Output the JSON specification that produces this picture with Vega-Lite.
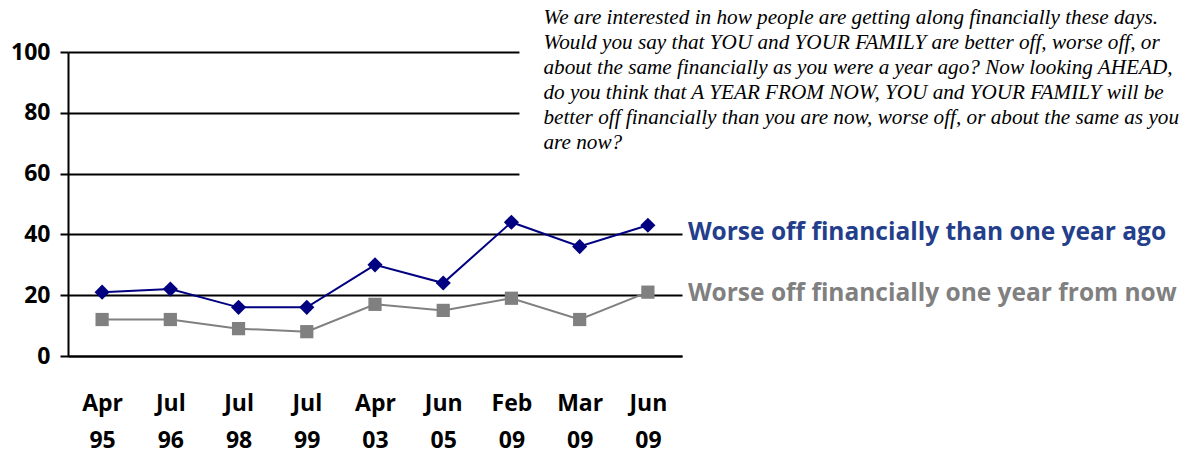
{
  "$schema": "https://vega.github.io/schema/vega-lite/v6.json",
  "width": 614,
  "height": 304,
  "autosize": "none",
  "padding": {"left": 68, "top": 52, "right": 517, "bottom": 98},
  "background": "white",
  "config": {"view": {"stroke": null}},
  "datasets": {
    "series": [
      {"period": "Apr 95", "series": "Worse off financially than one year ago", "value": 21},
      {"period": "Jul 96", "series": "Worse off financially than one year ago", "value": 22},
      {"period": "Jul 98", "series": "Worse off financially than one year ago", "value": 16},
      {"period": "Jul 99", "series": "Worse off financially than one year ago", "value": 16},
      {"period": "Apr 03", "series": "Worse off financially than one year ago", "value": 30},
      {"period": "Jun 05", "series": "Worse off financially than one year ago", "value": 24},
      {"period": "Feb 09", "series": "Worse off financially than one year ago", "value": 44},
      {"period": "Mar 09", "series": "Worse off financially than one year ago", "value": 36},
      {"period": "Jun 09", "series": "Worse off financially than one year ago", "value": 43},
      {"period": "Apr 95", "series": "Worse off financially one year from now", "value": 12},
      {"period": "Jul 96", "series": "Worse off financially one year from now", "value": 12},
      {"period": "Jul 98", "series": "Worse off financially one year from now", "value": 9},
      {"period": "Jul 99", "series": "Worse off financially one year from now", "value": 8},
      {"period": "Apr 03", "series": "Worse off financially one year from now", "value": 17},
      {"period": "Jun 05", "series": "Worse off financially one year from now", "value": 15},
      {"period": "Feb 09", "series": "Worse off financially one year from now", "value": 19},
      {"period": "Mar 09", "series": "Worse off financially one year from now", "value": 12},
      {"period": "Jun 09", "series": "Worse off financially one year from now", "value": 21}
    ],
    "labels": [
      {"period": "Jun 09", "value": 40, "label": "Worse off financially than one year ago", "series": "Worse off financially than one year ago"},
      {"period": "Jun 09", "value": 20, "label": "Worse off financially one year from now", "series": "Worse off financially one year from now"}
    ],
    "box": [
      {"from": "Feb 09", "to": "Jun 09", "top": 100, "bottom": 58}
    ],
    "question": [
      {"period": "Feb 09", "value": 100, "text": ["We are interested in how people are getting along financially these days.", "Would you say that YOU and YOUR FAMILY are better off, worse off, or", "about the same financially as you were a year ago? Now looking AHEAD,", "do you think that A YEAR FROM NOW, YOU and YOUR FAMILY will be", "better off financially than you are now, worse off, or about the same as you", "are now?"]}
    ]
  },
  "layer": [
    {
      "data": {"name": "series"},
      "mark": {"type": "line", "strokeWidth": 2},
      "encoding": {
        "x": {
          "field": "period", "type": "ordinal", "sort": null,
          "scale": {"type": "point", "padding": 0.5},
          "axis": {
            "title": null, "labelAngle": 0, "ticks": false, "domain": true,
            "domainColor": "black", "domainWidth": 2,
            "labelExpr": "split(datum.label, ' ')",
            "labelFont": "Open Sans", "labelFontWeight": "bold", "labelFontSize": 23,
            "labelColor": "black", "labelPadding": 36, "labelLineHeight": 37,
            "labelBaseline": "top"
          }
        },
        "y": {
          "field": "value", "type": "quantitative",
          "scale": {"domain": [0, 100]},
          "axis": {
            "title": null, "values": [0, 20, 40, 60, 80, 100],
            "grid": true, "gridColor": "black", "gridWidth": 2, "gridOpacity": 1,
            "domain": true, "domainColor": "black", "domainWidth": 2,
            "ticks": true, "tickSize": 8, "tickColor": "black", "tickWidth": 2,
            "labelFont": "Open Sans", "labelFontWeight": "bold", "labelFontSize": 23,
            "labelColor": "black", "labelPadding": 10
          }
        },
        "color": {
          "field": "series", "type": "nominal", "legend": null,
          "scale": {"domain": ["Worse off financially than one year ago", "Worse off financially one year from now"], "range": ["#000080", "#808080"]}
        }
      }
    },
    {
      "data": {"name": "series"},
      "mark": {"type": "point", "filled": true, "opacity": 1},
      "encoding": {
        "x": {"field": "period", "type": "ordinal", "sort": null},
        "y": {"field": "value", "type": "quantitative"},
        "color": {
          "field": "series", "type": "nominal", "legend": null,
          "scale": {"domain": ["Worse off financially than one year ago", "Worse off financially one year from now"], "range": ["#000080", "#808080"]}
        },
        "shape": {
          "field": "series", "type": "nominal", "legend": null,
          "scale": {"domain": ["Worse off financially than one year ago", "Worse off financially one year from now"], "range": ["diamond", "square"]}
        },
        "size": {
          "field": "series", "type": "nominal", "legend": null,
          "scale": {"domain": ["Worse off financially than one year ago", "Worse off financially one year from now"], "range": [230, 175]}
        }
      }
    },
    {
      "data": {"name": "box"},
      "mark": {"type": "rect", "color": "white", "opacity": 1, "xOffset": 8, "x2Offset": 40, "yOffset": -10},
      "encoding": {
        "x": {"field": "from", "type": "ordinal", "sort": null},
        "x2": {"field": "to"},
        "y": {"field": "top", "type": "quantitative"},
        "y2": {"field": "bottom"}
      }
    },
    {
      "data": {"name": "labels"},
      "mark": {"type": "text", "align": "left", "baseline": "middle", "dx": 40, "dy": -1, "font": "Open Sans", "fontWeight": "bold", "fontSize": 24.5},
      "encoding": {
        "x": {"field": "period", "type": "ordinal", "sort": null},
        "y": {"field": "value", "type": "quantitative"},
        "text": {"field": "label"},
        "color": {
          "field": "series", "type": "nominal", "legend": null,
          "scale": {"domain": ["Worse off financially than one year ago", "Worse off financially one year from now"], "range": ["#233E8B", "#808080"]}
        }
      }
    },
    {
      "data": {"name": "question"},
      "mark": {"type": "text", "align": "left", "baseline": "alphabetic", "dx": 32, "dy": -28, "font": "Liberation Serif", "fontStyle": "italic", "fontSize": 21.2, "lineHeight": 25, "color": "black"},
      "encoding": {
        "x": {"field": "period", "type": "ordinal", "sort": null},
        "y": {"field": "value", "type": "quantitative"},
        "text": {"field": "text"}
      }
    }
  ],
  "resolve": {"scale": {"color": "independent"}}
}
